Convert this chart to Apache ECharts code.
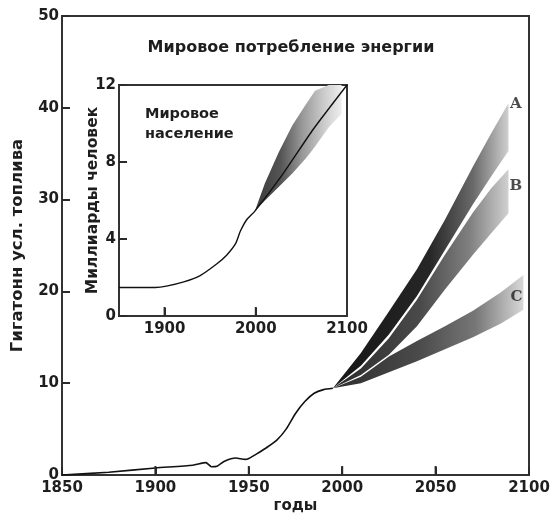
<!DOCTYPE html>
<html>
<head>
<meta charset="utf-8">
<script src="https://cdn.jsdelivr.net/npm/echarts@6/dist/echarts.min.js"></script>
<style>
  html, body { margin: 0; padding: 0; background: #fff; }
  #chart { width: 553px; height: 520px; }
</style>
</head>
<body>
<div id="chart"></div>
<script>
// world energy use, gigatonnes coal equivalent
const energyYears = [1850, 1875, 1900, 1920, 1927, 1930, 1933, 1937, 1943, 1948, 1950, 1955, 1960, 1965, 1970, 1975, 1980, 1985, 1990, 1995]
const energyValues = [0, 0.3, 0.76, 1.07, 1.35, 0.9, 0.95, 1.5, 1.85, 1.7, 1.8, 2.4, 3.05, 3.8, 5.0, 6.7, 8.0, 8.9, 9.3, 9.45]

// scenario bands (upper / lower edge)
const bandYearsAB = [1995, 2010, 2025, 2040, 2055, 2070, 2080, 2089]
const aUpper = [9.45, 13.3, 17.8, 22.4, 27.8, 33.6, 37.3, 40.5]
const aLower = [9.45, 11.9, 15.3, 19.5, 24.5, 29.5, 32.6, 35.3]
const bUpper = [9.45, 11.6, 14.9, 19.1, 24.0, 28.6, 31.3, 33.3]
const bLower = [9.45, 10.9, 13.1, 16.2, 20.2, 24.0, 26.4, 28.5]
const bandYearsC = [1995, 2010, 2025, 2040, 2055, 2070, 2085, 2097]
const cUpper = [9.45, 10.7, 12.9, 14.6, 16.2, 17.9, 19.9, 21.8]
const cLower = [9.45, 10.0, 11.2, 12.4, 13.7, 15.0, 16.5, 18.0]

const scenarioNames = ['A', 'B', 'C']
const scenarioLabelYears = [2093, 2093, 2093.3]
const scenarioLabelValues = [40.4, 31.5, 19.4]

// world population, billions
const popYears = [1850, 1890, 1902, 1921, 1939, 1957, 1968, 1978, 1983, 1990, 1999, 2030, 2063, 2100]
const popValues = [1.48, 1.48, 1.55, 1.77, 2.1, 2.7, 3.16, 3.77, 4.4, 5.0, 5.45, 7.4, 9.7, 12]
const popBandYears = [1999, 2010, 2025, 2040, 2055, 2065, 2080, 2094]
const popUpper = [5.45, 6.9, 8.5, 9.9, 11.0, 11.7, 12, 12]
const popLower = [5.45, 6.0, 6.7, 7.4, 8.2, 8.8, 9.8, 10.5]

const mainTickYears = [1900, 1950, 2000, 2050]
const insetTickYears = [1900, 2000]
const insetXLabels = [1900, 2000, 2100]

const FONT = 'DejaVu Sans'
const INK = '#1e1e1e'

function pairs(xs, ys) {
  return xs.map((x, i) => [x, ys[i]])
}

// a shaded band between two edges, drawn as one polygon through the axes
function band(name, years, hi, lo, xi, stops) {
  return {
    name: name, type: 'custom', xAxisIndex: xi, yAxisIndex: xi, silent: true,
    data: years.map((y, i) => [y, lo[i], hi[i]]),
    encode: { x: 0, y: [1, 2] },
    renderItem: function (params, api) {
      if (params.dataIndex !== 0) return null
      const top = years.map((y, i) => api.coord([y, hi[i]]))
      const bottom = years.map((y, i) => api.coord([y, lo[i]])).reverse()
      const x0 = top[0][0]
      const x1 = Math.max(top[top.length - 1][0], bottom[0][0])
      return {
        type: 'polygon',
        shape: { points: top.concat(bottom) },
        style: {
          fill: new echarts.graphic.LinearGradient(x0, 0, x1, 0,
            stops.map(s => ({ offset: s[0], color: s[1] })), true)
        }
      }
    }
  }
}

// short upward tick marks standing on a bottom axis
function tickMarks(name, years, xi) {
  return {
    name: name, type: 'custom', xAxisIndex: xi, yAxisIndex: xi, silent: true, z: 10,
    clip: false,
    data: years.map(y => [y, 0]),
    encode: { x: 0, y: 1 },
    renderItem: function (params, api) {
      const p = api.coord([api.value(0), api.value(1)])
      return {
        type: 'line',
        shape: { x1: p[0], y1: p[1], x2: p[0], y2: p[1] - 9 },
        style: { stroke: '#2a2a2a', lineWidth: 2 }
      }
    }
  }
}

function textStyle(size) {
  return { fontFamily: FONT, fontWeight: 'bold', fontSize: size || 15, color: INK }
}
function axisLine() {
  return { show: true, lineStyle: { color: '#333', width: 2 } }
}
function ticks(extra) {
  return Object.assign({ show: true, inside: true, length: 8, lineStyle: { color: '#2a2a2a', width: 2 } }, extra)
}
function labels(margin, extra) {
  return Object.assign({ margin: margin, formatter: v => String(v) }, textStyle(15), extra)
}

const chart = echarts.init(document.getElementById('chart'))

chart.setOption({
  animation: false,
  backgroundColor: '#fff',
  title: [
    {
      text: 'Мировое потребление энергии',
      left: 291, top: 40, textAlign: 'center', padding: 0,
      textStyle: textStyle(16)
    },
    {
      text: 'Мировое\nнаселение',
      left: 145, top: 104, padding: 0,
      textStyle: Object.assign(textStyle(14.5), { lineHeight: 20 })
    }
  ],
  grid: [
    { left: 62, top: 16, right: 24, bottom: 45, show: true, borderColor: '#333', borderWidth: 2 },
    { left: 119, top: 85, width: 228, height: 231, show: true, borderColor: '#333', borderWidth: 2, backgroundColor: '#fff' }
  ],
  xAxis: [
    {
      gridIndex: 0, type: 'value', min: 1850, max: 2100, interval: 50,
      name: 'годы', nameLocation: 'middle', nameGap: 24, nameMoveOverlap: false,
      nameTextStyle: textStyle(15),
      axisLine: axisLine(), splitLine: { show: false },
      axisTick: ticks(),
      axisLabel: labels(6)
    },
    {
      gridIndex: 1, type: 'value', min: 1850, max: 2100,
      axisLine: axisLine(), splitLine: { show: false },
      axisTick: ticks({ customValues: insetTickYears }),
      axisLabel: labels(6, { customValues: insetXLabels })
    }
  ],
  yAxis: [
    {
      gridIndex: 0, type: 'value', min: 0, max: 50, interval: 10,
      name: 'Гигатонн усл. топлива', nameLocation: 'middle', nameGap: 36, nameMoveOverlap: false,
      nameTextStyle: textStyle(16.5),
      axisLine: axisLine(), splitLine: { show: false },
      axisTick: ticks(),
      axisLabel: labels(3)
    },
    {
      gridIndex: 1, type: 'value', min: 0, max: 12, interval: 4,
      name: 'Миллиарды человек', nameLocation: 'middle', nameGap: 18, nameMoveOverlap: false,
      nameTextStyle: textStyle(15.5),
      axisLine: axisLine(), splitLine: { show: false },
      axisTick: ticks(),
      axisLabel: labels(3)
    }
  ],
  series: [
    band('C', bandYearsC, cUpper, cLower, 0,
      [[0, '#2e2e2e'], [0.45, '#4a4a4a'], [0.75, '#777'], [1, '#d8d8d8']]),
    band('B', bandYearsAB, bUpper, bLower, 0,
      [[0, '#2a2a2a'], [0.5, '#4a4a4a'], [0.78, '#808080'], [1, '#d0d0d0']]),
    band('A', bandYearsAB, aUpper, aLower, 0,
      [[0, '#151515'], [0.55, '#262626'], [0.8, '#6a6a6a'], [1, '#cfcfcf']]),
    {
      name: 'energy', type: 'line', xAxisIndex: 0, yAxisIndex: 0,
      data: pairs(energyYears, energyValues), showSymbol: false, smooth: 0.2,
      lineStyle: { color: '#111', width: 1.6 }, z: 5
    },
    band('pop', popBandYears, popUpper, popLower, 1,
      [[0, '#3a3a3a'], [0.3, '#555'], [0.55, '#999'], [0.8, '#ccc'], [1, '#eee']]),
    {
      name: 'population', type: 'line', xAxisIndex: 1, yAxisIndex: 1,
      data: pairs(popYears, popValues), showSymbol: false, smooth: 0.2,
      lineStyle: { color: '#111', width: 1.4 }, z: 5
    },
    tickMarks('mainTicks', mainTickYears, 0),
    tickMarks('insetTicks', insetTickYears, 1),
    {
      name: 'labels', type: 'scatter', xAxisIndex: 0, yAxisIndex: 0,
      symbolSize: 0, silent: true,
      data: scenarioNames.map((n, i) => ({ name: n, value: [scenarioLabelYears[i], scenarioLabelValues[i]] })),
      label: {
        show: true, position: 'inside', formatter: '{b}',
        fontFamily: 'DejaVu Serif', fontWeight: 'bold', fontSize: 15, color: INK
      }
    }
  ]
})
</script>
</body>
</html>
